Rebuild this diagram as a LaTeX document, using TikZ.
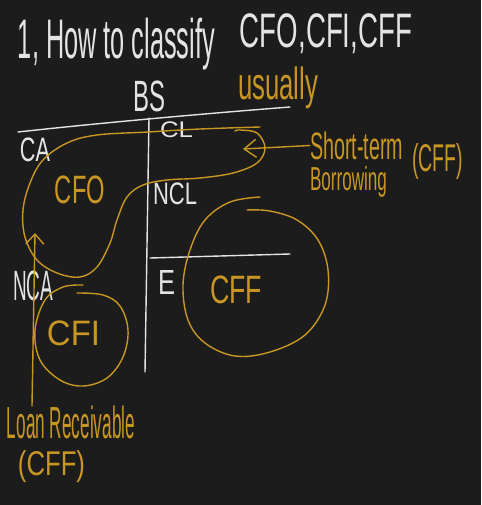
\documentclass[tikz,border=0pt]{standalone}
\usepackage{fontspec}
\setmainfont{Liberation Sans}
\usetikzlibrary{arrows.meta}
\definecolor{bg}{RGB}{28,28,28}
\definecolor{chalk}{RGB}{228,228,228}
\definecolor{gold}{RGB}{200,150,35}
\newcommand{\fitbox}[3]{\resizebox*{#1pt}{#2pt}{#3}}
\begin{document}
\begin{tikzpicture}[x=1pt,y=-1pt,
  wline/.style={draw=chalk,line width=1.4pt,line cap=round},
  gline/.style={draw=gold,line width=1.4pt,line cap=round,line join=round},
  wtxt/.style={text=chalk,inner sep=0pt,outer sep=0pt},
  gtxt/.style={text=gold,inner sep=0pt,outer sep=0pt},
  chev/.style={-{Straight Barb[length=#1pt,width=18pt,line width=1.4pt]}},
  chev/.default=9]
\fill[bg] (0,0) rectangle (481,505);
\useasboundingbox (0,0) rectangle (481,505);
% titles
\node[wtxt] (t1) at (116.5,44.5) {\fitbox{197}{52}{1, How to classify}};
\node[wtxt] (t2) at (326,34) {\fitbox{172}{40}{CFO,CFI,CFF}};
\node[wtxt] (bs) at (149,96.5) {\fitbox{32}{31}{BS}};
\node[gtxt] (usu) at (278,87.5) {\fitbox{80}{42}{usually}};
% balance sheet lines
\coordinate (hl1) at (18,132);
\coordinate (hl2) at (290,107);
\coordinate (vt) at (149,118);
\coordinate (vb) at (145,372);
\coordinate (ml1) at (150,258);
\coordinate (ml2) at (290,254);
\draw[wline] (hl1) .. controls (100,123) and (200,114) .. (hl2);
\draw[wline] (vt) -- (vb);
\draw[wline] (ml1) -- (ml2);
% white labels
\node[wtxt] (ca) at (35,149.5) {\fitbox{30}{24}{CA}};
\node[wtxt] (cl) at (176.5,130) {\fitbox{33}{16}{CL}};
\node[wtxt] (ncl) at (175,194) {\fitbox{44}{22}{NCL}};
\node[wtxt] (nca) at (33,286) {\fitbox{40}{30}{NCA}};
\node[wtxt] (eq) at (166.5,282.5) {\fitbox{17}{24}{E}};
% gold labels
\node[gtxt] (cfo) at (80,190) {\fitbox{50}{28}{CFO}};
\node[gtxt] (cff) at (236,290) {\fitbox{52}{28}{CFF}};
\node[gtxt] (cfi) at (73.5,333) {\fitbox{53}{25}{CFI}};
\node[gtxt] (st) at (356.5,145.5) {\fitbox{93}{28}{Short-term}};
\node[gtxt] (bor) at (348.5,182) {\fitbox{77}{31}{Borrowing}};
\node[gtxt] (stc) at (437.5,161) {\fitbox{51}{36}{(CFF)}};
\node[gtxt] (loan) at (71,422.5) {\fitbox{128}{33}{Loan Receivable}};
\node[gtxt] (loanc) at (51.5,466.5) {\fitbox{67}{32}{(CFF)}};
% CFO loop
\draw[gline] plot[smooth,tension=0.6] coordinates {(260,127) (200,129) (148,132) (97,135) (67,143) (43,160) (30,183) (23,210) (25,237) (37,260) (57,273) (80,277) (97,267) (110,243) (117,220) (127,197) (143,185) (167,180) (200,178) (233,173) (257,163) (265,148) (257,133) (240,130) (235,131)};
% CFF circle
\draw[gline] plot[smooth,tension=0.6] coordinates {(260,197) (230,202) (205,220) (190,250) (183,285) (188,320) (205,343) (235,356) (270,352) (305,335) (325,305) (328,270) (318,240) (297,220) (270,211) (247,210)};
% CFI circle
\draw[gline] plot[smooth,tension=0.6] coordinates {(83,285) (63,287) (45,300) (35,330) (40,360) (60,380) (83,386) (107,378) (123,357) (128,330) (120,306) (103,295) (77,293)};
% arrows
\coordinate (sttip) at (243,149);
\coordinate (lrtip) at (35,233);
\draw[gline,chev=12] (st.west) -- (sttip);
\draw[gline,chev=10] ([xshift=25pt]loan.north west) -- (lrtip);
\end{tikzpicture}
\end{document}
